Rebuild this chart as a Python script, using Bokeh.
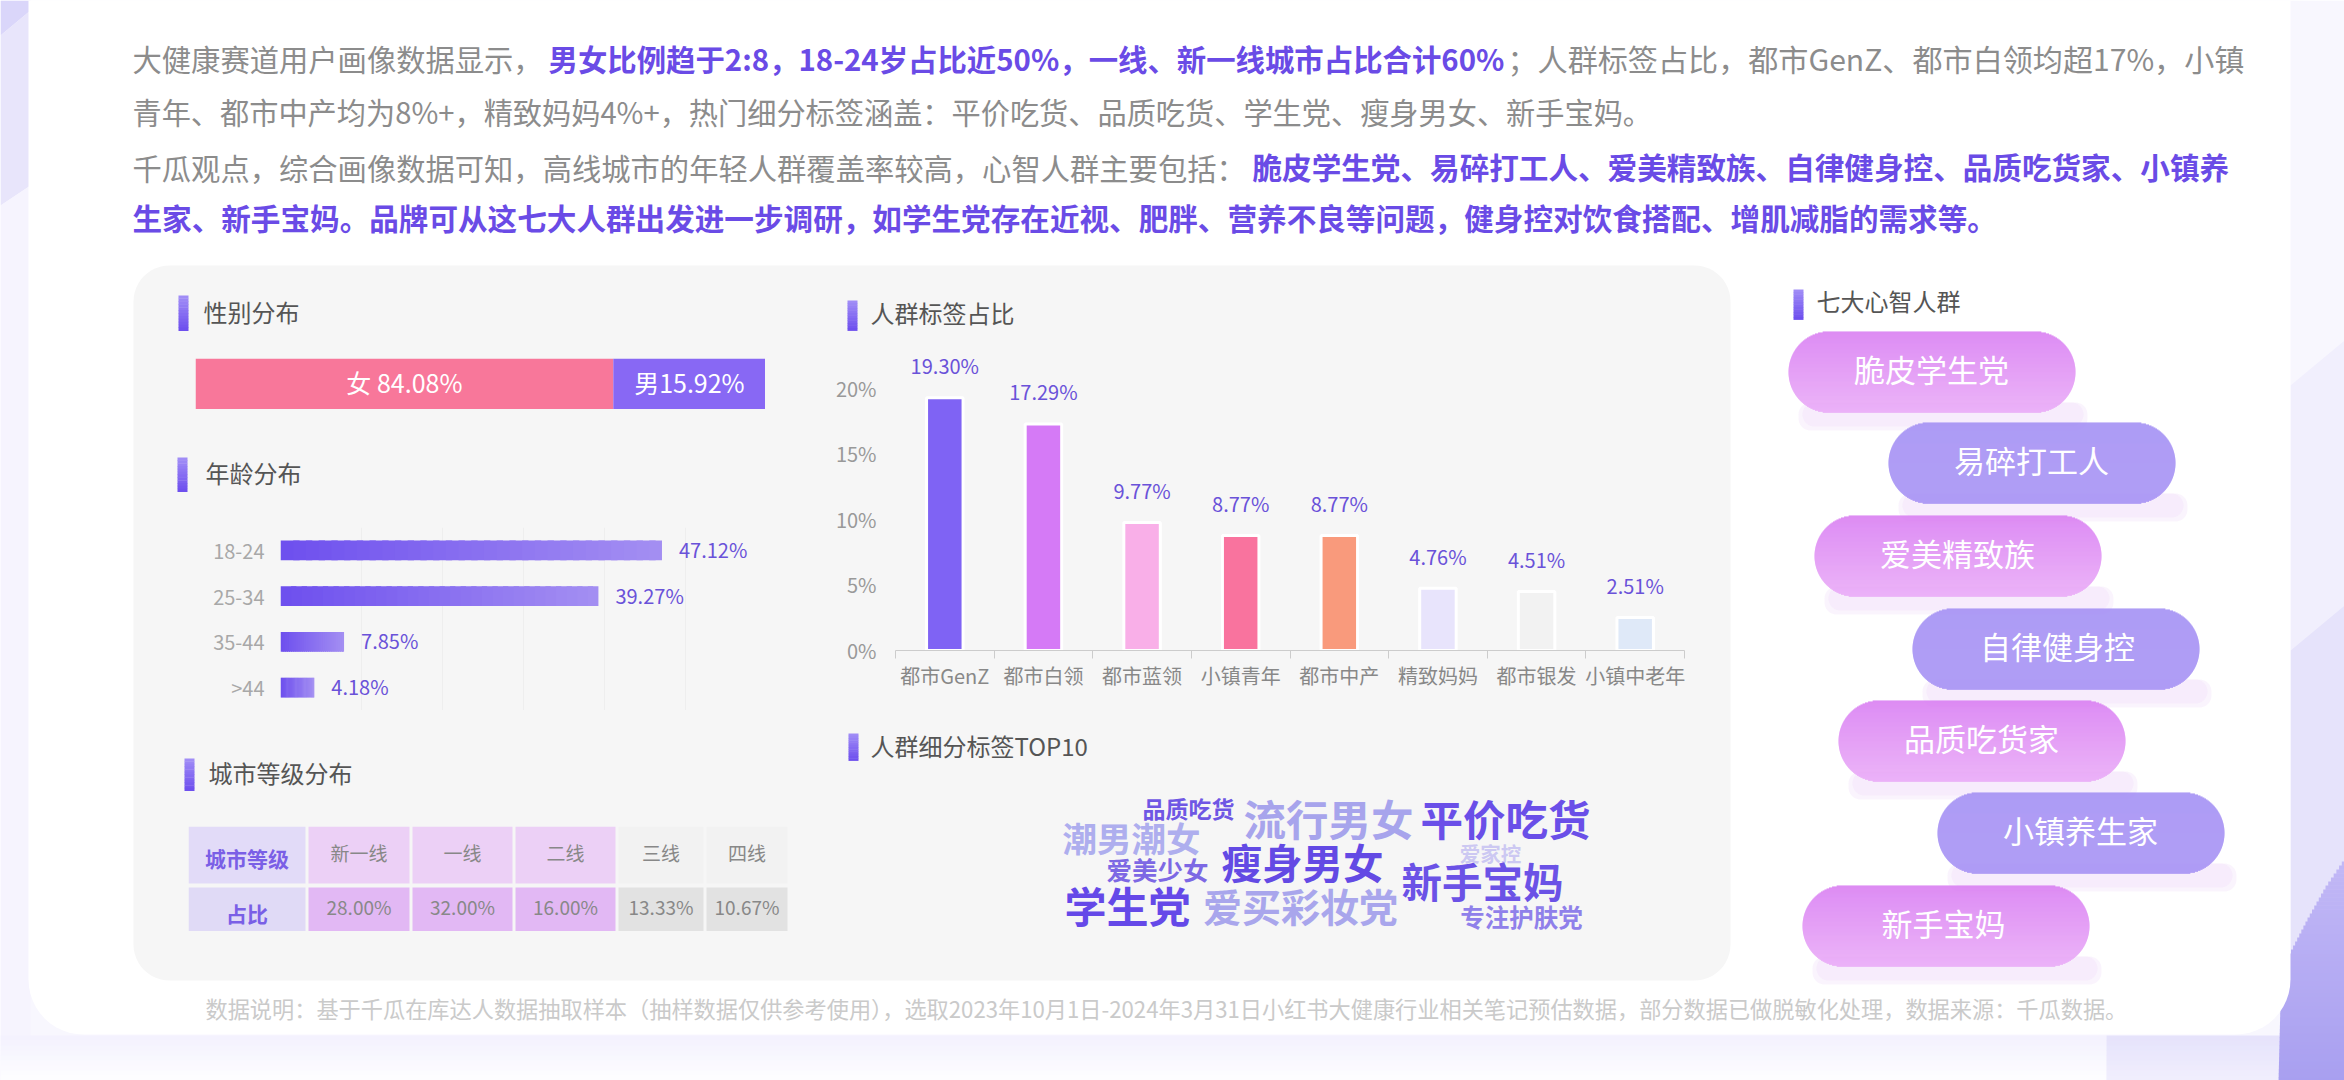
from bokeh.core.properties import value
from bokeh.embed import file_html
from bokeh.layouts import column
from bokeh.models import FixedTicker, FactorRange, Range1d
from bokeh.plotting import figure
from bokeh.resources import INLINE
import math

CJK = value("Noto Sans CJK SC")
PURPLE = "#6a4be6"
LABEL_PURPLE = "#6a52d9"
GRAY = "#8c8c8c"

# chart data
gender_labels = ["女 84.08%", "男15.92%"]
gender_drawn_share = [73.3, 26.7]  # the bar in the picture is not to scale
gender_colors = ["#f8779a", "#8868f4"]

age_groups = ["18-24", "25-34", "35-44", ">44"]
age_values = [47.12, 39.27, 7.85, 4.18]

tag_names = ["都市GenZ", "都市白领", "都市蓝领", "小镇青年", "都市中产", "精致妈妈", "都市银发", "小镇中老年"]
tag_values = [19.30, 17.29, 9.77, 8.77, 8.77, 4.76, 4.51, 2.51]
tag_colors = ["#7f63f4", "#d57af6", "#f9afe8", "#f9739e", "#f99a7c", "#e8e4fc", "#f2f2f2", "#dfe9f8"]

city_levels = ["新一线", "一线", "二线", "三线", "四线"]
city_shares = ["28.00%", "32.00%", "16.00%", "13.33%", "10.67%"]

words = ["品质吃货", "流行男女", "平价吃货", "潮男潮女", "爱家控", "爱美少女", "瘦身男女", "新手宝妈", "学生党", "爱买彩妆党", "专注护肤党"]
word_colors = ["#6f57e4", "#a7a4ec", "#6a4fe8", "#aeaeee", "#ccc8f2", "#7d68e4", "#634ae4", "#6b52e6", "#6549e8", "#a9a6ec", "#8f80ea"]
word_x = [1188, 1328, 1505, 1131, 1490, 1157, 1302, 1482, 1127, 1300, 1521]
word_y = [807, 817, 817, 836, 852, 868, 861, 880, 904, 904, 916]
word_sizes = [23, 42.5, 42.5, 34.5, 20.5, 25.5, 40.5, 40.5, 42, 39, 24.5]

persona_names = ["脆皮学生党", "易碎打工人", "爱美精致族", "自律健身控", "品质吃货家", "小镇养生家", "新手宝妈"]
pill_left = [1788, 1888, 1814, 1912, 1838, 1937, 1802]
pill_top = [331, 422, 515, 608, 700, 792, 885]
pill_text_x = [1931, 2031, 1957, 2057, 1981, 2080, 1943]

body = [
    [("大健康赛道用户画像数据显示，", GRAY, "normal", 132, 29.3),
     ("男女比例趋于2:8，18-24岁占比近50%，一线、新一线城市占比合计60%", PURPLE, "bold", 548, 29.4),
     ("；人群标签占比，都市GenZ、都市白领均超17%，小镇", GRAY, "normal", 1507, 30.1)],
    [("青年、都市中产均为8%+，精致妈妈4%+，热门细分标签涵盖：平价吃货、品质吃货、学生党、瘦身男女、新手宝妈。", GRAY, "normal", 132, 29.2)],
    [("千瓜观点，综合画像数据可知，高线城市的年轻人群覆盖率较高，心智人群主要包括：", GRAY, "normal", 132, 29.3),
     ("脆皮学生党、易碎打工人、爱美精致族、自律健身控、品质吃货家、小镇养", PURPLE, "bold", 1252, 29.6)],
    [("生家、新手宝妈。品牌可从这七大人群出发进一步调研，如学生党存在近视、肥胖、营养不良等问题，健身控对饮食搭配、增肌减脂的需求等。", PURPLE, "bold", 132, 29.6)],
]
body_y = [57, 110, 166, 217]

section_titles = ["性别分布", "年龄分布", "城市等级分布", "人群标签占比", "人群细分标签TOP10", "七大心智人群"]
section_x = [178, 177, 184, 847, 848, 1793]
section_y = [295, 457, 758, 300, 733, 289]
section_h = [35, 34, 32, 30, 27, 30]
section_tx = [203, 205, 208, 870, 870, 1816]
section_dy = [-2, -2, -2, -3, -2, -4]

footer = "数据说明：基于千瓜在库达人数据抽取样本（抽样数据仅供参考使用），选取2023年10月1日-2024年3月31日小红书大健康行业相关笔记预估数据，部分数据已做脱敏化处理，数据来源：千瓜数据。"


def mix(a, b, t):
    ca = [int(a[i:i + 2], 16) for i in (1, 3, 5)]
    cb = [int(b[i:i + 2], 16) for i in (1, 3, 5)]
    return "#%02x%02x%02x" % tuple(round(x + (y - x) * t) for x, y in zip(ca, cb))


def layer(w, h, x_range, y_range, **kw):
    borders = dict(min_border_left=0, min_border_right=0, min_border_top=0, min_border_bottom=0)
    borders.update(kw)
    p = figure(width=w, height=h, x_range=x_range, y_range=y_range, output_backend="svg",
               toolbar_location=None, background_fill_alpha=0, border_fill_alpha=0, **borders)
    p.outline_line_color = None
    p.grid.visible = False
    return p


def pinned(p, left, top):
    # each figure sits in a column of its own, so frames are not lined up with each other
    box = column(p, width=p.width, height=p.height)
    box.styles = {"position": "absolute", "left": f"{left}px", "top": f"{top}px"}
    return box


def rounded(l, r, t, b, rad):
    xs, ys = [], []
    for cx, cy, start in [(l + rad, t + rad, 180), (r - rad, t + rad, 270), (r - rad, b - rad, 0), (l + rad, b - rad, 90)]:
        for k in range(13):
            a = math.radians(start + 90 * k / 12)
            xs.append(cx + rad * math.cos(a))
            ys.append(cy + rad * math.sin(a))
    return xs, ys


# backdrop: page, card, panel, texts, pills
bg = layer(2344, 1080, Range1d(0, 2344), Range1d(1080, 0))
bg.axis.visible = False
bg.quad(left=0, right=2344, top=0, bottom=1080, fill_color="#f8f7fe", line_color=None)
bg.patch([0, 30, 30, 0], [0, 0, 10, 35], fill_color="#dad6fa", line_color=None)
bg.patch([0, 30, 30, 0], [35, 10, 185, 205], fill_color="#e8e5fb", line_color=None)
bg.patch([0, 30, 30, 0], [205, 185, 1080, 1080], fill_color="#f6f4fe", line_color=None)
for i in range(9):
    y0 = 1035 + i * 5
    c = mix("#f4f2fe", "#fdfdff", i / 8)
    bg.quad(left=0, right=2106, top=y0, bottom=y0 + 5.4, fill_color=c, line_color=None)
    bg.quad(left=2106, right=2344, top=y0, bottom=y0 + 5.4, fill_color=mix("#e6e3fb", "#f0eefd", i / 8), line_color=None)
bg.patch([2290, 2344, 2344, 2290], [385, 340, 605, 650], fill_color="#f1effd", line_color=None)
bg.patch([2290, 2344, 2344, 2290], [650, 605, 1080, 1080], fill_color="#e6e3fb", line_color=None)
edge_y = [857, 885, 917, 950, 1000, 1080]
edge_x = [2344, 2325, 2307, 2290, 2280, 2278]
for y0 in range(857, 1080, 4):
    t = (y0 - 857) / 223
    seg = next(k for k in range(5) if y0 <= edge_y[k + 1])
    x0 = edge_x[seg] + (edge_x[seg + 1] - edge_x[seg]) * (y0 - edge_y[seg]) / (edge_y[seg + 1] - edge_y[seg])
    bg.quad(left=x0, right=2344, top=y0, bottom=y0 + 4.4, fill_color=mix("#c2b8f6", "#a89ff0", t), line_color=None)

xs, ys = rounded(28, 2290, -80, 1034, 55)
bg.patch(xs, ys, fill_color="#ffffff", line_color=None)
xs, ys = rounded(133, 1730, 265, 980, 36)
bg.patch(xs, ys, fill_color="#f6f6f6", line_color=None)

for segments, y in zip(body, body_y):
    for text, color, style, x, size in segments:
        bg.text(x=[x], y=[y], text=[text], text_font=CJK, text_font_size=f"{size}px", text_color=color,
                text_font_style=style, text_align="left", text_baseline="middle")

for title, x, y, h, tx, dy in zip(section_titles, section_x, section_y, section_h, section_tx, section_dy):
    strips = 12
    for i in range(strips):
        bg.quad(left=x, right=x + 10, top=y + h * i / strips, bottom=y + h * (i + 1) / strips + 0.4,
                fill_color=mix("#a08cf6", "#6e50ee", i / (strips - 1)), line_color=None)
    bg.text(x=[tx], y=[y + h / 2 + dy], text=[title], text_font=CJK, text_font_size="24px", text_color="#555555",
            text_align="left", text_baseline="middle")

bg.text(x=[205], y=[1007], text=[footer], text_font=CJK, text_font_size="22.2px", text_color="#cacaca",
        text_align="left", text_baseline="middle")

PILL_W, PILL_H = 287, 81
for n, (name, l, t, tx) in enumerate(zip(persona_names, pill_left, pill_top, pill_text_x)):
    pink = n % 2 == 0
    top_c, bot_c = ("#d87cf2", "#e9a9f7") if pink else ("#a28ef3", "#a48ff4")
    for grow, alpha in [(0, 0.3), (-4, 0.35)]:
        xs, ys = rounded(l + 10 - grow, l + PILL_W + 12 + grow, t + PILL_H - 10, t + PILL_H + 18 + grow, 12)
        bg.patch(xs, ys, fill_color="#f0dcf9", fill_alpha=alpha, line_color=None)
    r = PILL_H / 2
    for row in range(PILL_H):
        dy = abs(row + 0.5 - r)
        half = PILL_W / 2 - r + math.sqrt(max(r * r - dy * dy, 0))
        cx = l + PILL_W / 2
        bg.quad(left=cx - half, right=cx + half, top=t + row, bottom=t + row + 1.3,
                fill_color=mix(top_c, bot_c, row / (PILL_H - 1)), line_color=None)
    bg.text(x=[tx], y=[t + r - 4], text=[name], text_font=CJK, text_font_size="31px", text_color="#ffffff",
            text_align="center", text_baseline="middle")

# gender share bar
gender = layer(570, 51, Range1d(0, 100), FactorRange(factors=["gender"]))
gender.axis.visible = False
left = 0
for share, label, color in zip(gender_drawn_share, gender_labels, gender_colors):
    gender.hbar(y=["gender"], left=left, right=left + share, height=1, fill_color=color, line_color=None)
    gender.text(x=[left + share / 2], y=["gender"], text=[label], y_offset=-2, text_font=CJK, text_font_size="25px",
                text_color="#ffffff", text_align="center", text_baseline="middle")
    left += share

# age bars
age = layer(600, 183, Range1d(0, 61.76), FactorRange(factors=age_groups[::-1]), min_border_left=100)
age.xaxis.visible = False
age.xgrid.visible = True
age.xgrid.ticker = FixedTicker(ticks=[0, 10, 20, 30, 40, 50])
age.xgrid.grid_line_color = "#eeeeee"
age.yaxis.axis_line_color = None
age.yaxis.major_tick_line_color = None
age.yaxis.minor_tick_line_color = None
age.yaxis.major_label_standoff = 10
age.yaxis.major_label_text_color = "#a8a8a8"
age.yaxis.major_label_text_font = "Noto Sans CJK SC"
age.yaxis.major_label_text_font_size = "20px"
steps = 30
for group, v in zip(age_groups, age_values):
    for i in range(steps):
        age.hbar(y=[group], left=v * i / steps, right=min(v, v * (i + 1.5) / steps), height=0.43,
                 fill_color=mix("#6e50ee", "#a38ef2", i / (steps - 1)), line_color=None)
age.text(x=age_values, y=age_groups, text=["%.2f%%" % v for v in age_values], x_offset=17, y_offset=-1, text_font=CJK,
         text_font_size="20px", text_color=LABEL_PURPLE, text_align="left", text_baseline="middle")

# persona tag columns
tags = layer(900, 360, Range1d(0, 8), Range1d(0, 23.66), min_border_left=95, min_border_right=16, min_border_bottom=50)
tag_x = [i + 0.5 for i in range(len(tag_names))]
tags.vbar(x=tag_x, bottom=0, top=tag_values, width=0.37, fill_color=tag_colors, line_color="#ffffff", line_width=3)
tags.text(x=tag_x, y=tag_values, text=["%.2f%%" % v for v in tag_values], y_offset=-32, text_font=CJK,
          text_font_size="20px", text_color=LABEL_PURPLE, text_align="center", text_baseline="middle")
tags.xaxis.ticker = FixedTicker(ticks=tag_x, minor_ticks=list(range(len(tag_names) + 1)))
tags.xaxis.major_label_overrides = dict(zip(tag_x, tag_names))
tags.xaxis.major_tick_line_color = None
tags.xaxis.minor_tick_line_color = "#cccccc"
tags.xaxis.minor_tick_out = 8
tags.xaxis.minor_tick_in = 0
tags.xaxis.axis_line_color = "#cccccc"
tags.xaxis.major_label_standoff = 2
tags.xaxis.major_label_text_color = "#888888"
tags.xaxis.major_label_text_font = "Noto Sans CJK SC"
tags.xaxis.major_label_text_font_size = "20px"
tags.yaxis.ticker = FixedTicker(ticks=[0, 5, 10, 15, 20])
tags.yaxis.major_label_overrides = {t: f"{t}%" for t in [0, 5, 10, 15, 20]}
tags.yaxis.axis_line_color = None
tags.yaxis.major_tick_line_color = None
tags.yaxis.minor_tick_line_color = None
tags.yaxis.major_label_standoff = 13
tags.yaxis.major_label_text_color = "#999999"
tags.yaxis.major_label_text_font = "Noto Sans CJK SC"
tags.yaxis.major_label_text_font_size = "20px"

# city level table
col_widths = [117, 101, 100, 100, 85, 81]
row_heights = [57, 44]
table = layer(601, 105, Range1d(0, 601), Range1d(105, 0))
table.axis.visible = False
row_fills = [["#e2dbf8", "#ecd0f6", "#ecd0f6", "#ecd0f6", "#f2f2f2", "#f2f2f2"],
             ["#e0daf6", "#e2b8f4", "#e2b8f4", "#e2b8f4", "#e2e2e2", "#e2e2e2"]]
row_texts = [["城市等级"] + city_levels, ["占比"] + city_shares]
row_tops = [0, 61]
for fills, texts, top, h in zip(row_fills, row_texts, row_tops, row_heights):
    x = 0
    for k, (fill, text, w) in enumerate(zip(fills, texts, col_widths)):
        table.quad(left=x, right=x + w, top=top, bottom=top + h, fill_color=fill, line_color=None)
        table.text(x=[x + w / 2], y=[top + h / 2], text=[text], y_offset=3 if k == 0 else -3, text_font=CJK,
                   text_font_size="21px" if k == 0 else "19px", text_color="#7a5fe6" if k == 0 else "#888888",
                   text_font_style="bold" if k == 0 else "normal", text_align="center", text_baseline="middle")
        x += w + 3

# word cloud
bg.text(x=word_x, y=word_y, text=words, text_font=CJK, text_font_size=[f"{s}px" for s in word_sizes],
        text_color=word_colors, text_font_style="bold", text_align="center", text_baseline="middle")

root = column(pinned(bg, 0, 0), pinned(gender, 195, 358), pinned(age, 180, 527), pinned(tags, 800, 340),
              pinned(table, 188, 826), width=2344, height=1080)
root.styles = {"position": "absolute", "left": "0px", "top": "0px"}

open("out.html", "w").write(file_html(root, INLINE))
